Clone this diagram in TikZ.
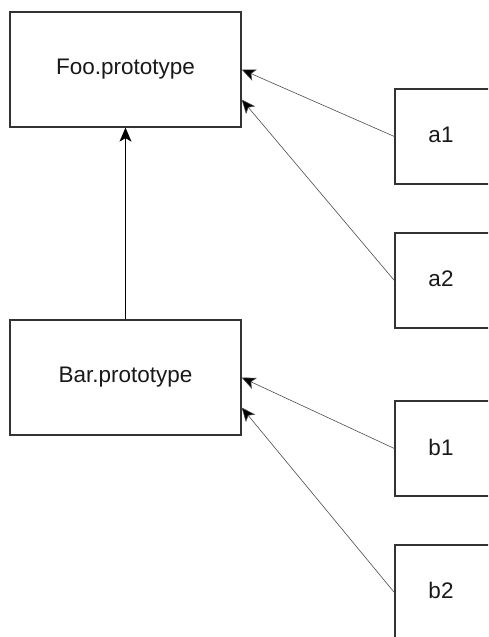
\documentclass[tikz,border=0pt]{standalone}
\usepackage{fontspec}
\setmainfont{Liberation Sans}
\usetikzlibrary{arrows.meta}
\begin{document}
\begin{tikzpicture}[x=1pt,y=-1pt,
  lbl/.style={font=\fontsize{22.5}{26}\selectfont,text=black!90},
  box/.style={draw=black!80,line width=1.3pt,fill=white,inner sep=0pt,lbl},
  link/.style={draw=black!70,line width=0.6pt,-{Stealth[length=14pt,width=12pt,inset=3.5pt,fill=black]}},
  main/.style={draw=black,line width=1pt,-{Stealth[length=14pt,width=12pt,inset=3.5pt,fill=black]}}]
\useasboundingbox (0,0) rectangle (488,637);
\begin{scope}
\clip (0,0) rectangle (488,637);
\node[box,minimum width=231pt,minimum height=115pt] (foo) at (125.5,69.5) {Foo.prototype};
\node[box,minimum width=231pt,minimum height=115pt] (bar) at (125.5,377.5) {Bar.prototype};
\node[box,minimum width=96pt,minimum height=95pt] (a1) at (443,136.5) {};
\node[box,minimum width=96pt,minimum height=95pt] (a2) at (443,280.5) {};
\node[box,minimum width=96pt,minimum height=95pt] (b1) at (443,448.5) {};
\node[box,minimum width=96pt,minimum height=95pt] (b2) at (443,592.5) {};
\node[lbl] (ta1) at (441,135) {a1};
\node[lbl] (ta2) at (441,279) {a2};
\node[lbl] (tb1) at (441,447) {b1};
\node[lbl] (tb2) at (441,590) {b2};
\end{scope}
\coordinate (fooA) at ([yshift=-30pt]foo.east);
\coordinate (barB) at ([yshift=-30pt]bar.east);
\draw[main] (bar.north) -- (foo.south);
\draw[link] (a1.west) -- (foo.east);
\draw[link] (a2.west) -- (fooA);
\draw[link] (b1.west) -- (bar.east);
\draw[link] (b2.west) -- (barB);
\end{tikzpicture}
\end{document}
